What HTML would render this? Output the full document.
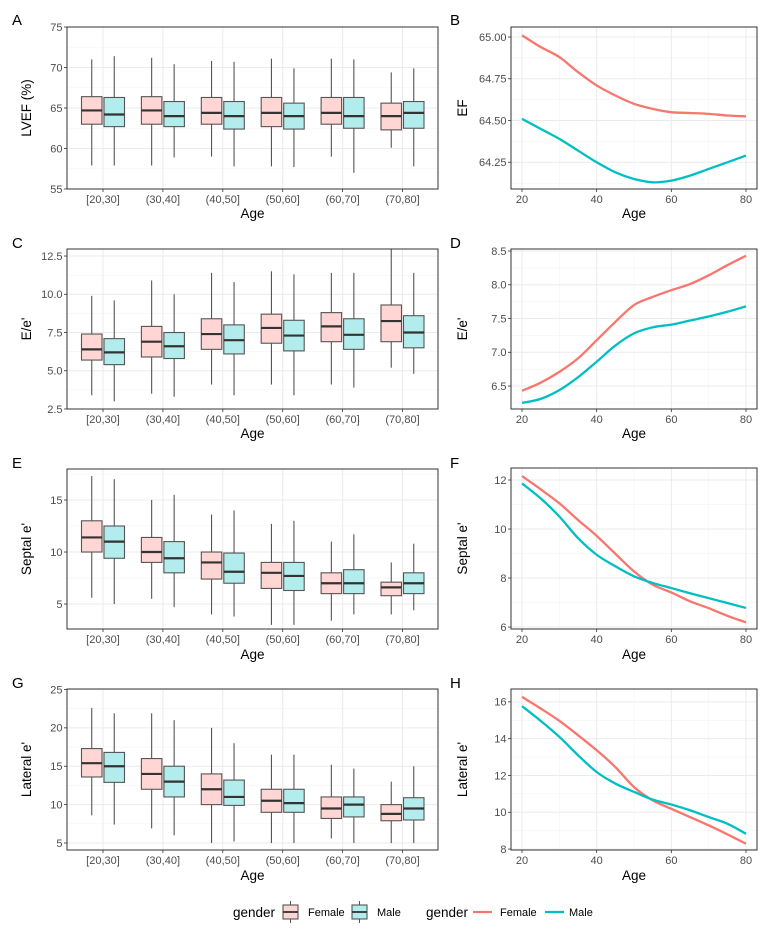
<!DOCTYPE html>
<html><head><meta charset="utf-8">
<style>
html,body{margin:0;padding:0;background:#fff;}
svg{display:block;font-family:"Liberation Sans",Arial,sans-serif;}
</style></head>
<body>
<svg id="chart" width="771" height="942" viewBox="0 0 771 942" xmlns="http://www.w3.org/2000/svg"></svg>
<script>
// ---------- data ----------
const ageGroups = ["[20,30]","(30,40]","(40,50]","(50,60]","(60,70]","(70,80]"];
// box stats: [lowWhisker, q1, median, q3, highWhisker]
const lvefFemale = [[57.9,63.0,64.7,66.4,71.0],[57.9,63.0,64.7,66.4,71.2],[59.0,63.0,64.4,66.3,70.8],[57.8,62.7,64.4,66.3,71.1],[59.0,63.0,64.4,66.3,71.1],[60.1,62.3,64.0,65.6,69.4]];
const lvefMale   = [[57.9,62.7,64.2,66.3,71.4],[58.9,62.7,64.0,65.8,70.4],[57.8,62.4,64.0,65.8,70.7],[57.7,62.4,64.0,65.6,69.9],[57.0,62.5,64.0,66.3,71.0],[57.8,62.5,64.4,65.8,69.9]];
const eeFemale = [[3.4,5.7,6.4,7.4,9.9],[3.5,5.9,6.9,7.9,10.9],[4.1,6.4,7.4,8.4,11.4],[4.1,6.8,7.8,8.7,11.5],[4.1,6.9,7.9,8.8,11.4],[5.2,6.9,8.25,9.3,13.0]];
const eeMale   = [[3.0,5.4,6.2,7.1,9.6],[3.3,5.8,6.6,7.5,10.0],[3.4,6.1,7.0,8.0,10.8],[3.4,6.3,7.3,8.3,11.3],[3.9,6.4,7.35,8.4,11.4],[4.8,6.5,7.5,8.6,11.4]];
const septFemale = [[5.6,10.0,11.4,13.0,17.3],[5.5,9.0,10.0,11.4,15.0],[4.0,7.4,9.0,10.0,13.6],[3.0,6.5,8.0,9.0,12.7],[3.4,6.0,7.0,8.0,11.0],[4.0,5.8,6.6,7.1,9.0]];
const septMale   = [[5.0,9.4,11.0,12.5,17.0],[4.7,8.0,9.4,11.0,15.5],[3.8,7.0,8.1,9.9,14.0],[3.0,6.3,7.7,9.0,13.0],[4.0,6.0,7.0,8.3,11.7],[4.4,6.0,7.0,8.0,10.8]];
const latFemale = [[8.6,13.6,15.4,17.3,22.6],[6.9,12.0,14.0,16.0,21.9],[5.0,10.0,12.0,14.0,20.0],[5.0,9.0,10.5,12.0,16.5],[5.6,8.2,9.5,11.0,15.2],[5.0,7.9,8.8,10.0,13.0]];
const latMale   = [[7.4,12.9,15.0,16.8,21.9],[6.0,11.0,13.0,15.0,21.0],[5.2,9.9,11.0,13.2,18.0],[5.0,9.0,10.2,12.0,16.5],[5.0,8.4,10.0,11.0,14.7],[5.0,8.0,9.5,10.9,15.0]];

const ages = [20,25,30,35,40,45,50,55,60,65,70,75,80];
const efFemale = [65.01,64.94,64.88,64.79,64.71,64.65,64.60,64.57,64.55,64.545,64.54,64.53,64.525];
const efMale   = [64.51,64.45,64.39,64.32,64.25,64.19,64.15,64.13,64.14,64.17,64.21,64.25,64.29];
const eeLineFemale = [6.43,6.55,6.71,6.91,7.18,7.45,7.70,7.82,7.92,8.01,8.14,8.29,8.43];
const eeLineMale   = [6.25,6.31,6.44,6.63,6.86,7.10,7.28,7.37,7.41,7.47,7.53,7.60,7.68];
const septLineFemale = [12.16,11.62,11.05,10.37,9.72,8.99,8.27,7.73,7.41,7.05,6.77,6.46,6.19];
const septLineMale   = [11.86,11.25,10.51,9.63,8.95,8.48,8.07,7.80,7.59,7.38,7.18,6.98,6.78];
const latLineFemale = [16.27,15.64,14.97,14.19,13.37,12.46,11.37,10.65,10.19,9.74,9.29,8.80,8.29];
const latLineMale   = [15.77,14.97,14.10,13.10,12.19,11.56,11.11,10.69,10.42,10.11,9.74,9.38,8.83];

const lvefTicks = [55,60,65,70,75];
const efTicks = [64.25,64.50,64.75,65.00];
const eeTicks = [2.5,5.0,7.5,10.0,12.5];
const eeLineTicks = [6.5,7.0,7.5,8.0,8.5];
const septTicks = [5,10,15];
const septLineTicks = [6,8,10,12];
const latTicks = [5,10,15,20,25];
const latLineTicks = [8,10,12,14,16];
const ageTicks = [20,40,60,80];

// ---------- helpers ----------
const svg = document.getElementById('chart');
const NS = 'http://www.w3.org/2000/svg';
function mk(tag, attrs, parent){
  const e = document.createElementNS(NS, tag);
  for (const k in attrs) e.setAttribute(k, attrs[k]);
  (parent||svg).appendChild(e);
  return e;
}
function txt(s, x, y, opts, parent){
  const t = mk('text', Object.assign({x:x, y:y}, opts||{}), parent);
  t.textContent = s;
  return t;
}
function fmt(v, dec){ return v.toFixed(dec); }

function frame(g, L, R, T, B, name){
  const bg = mk('rect',{x:L,y:T,width:R-L,height:B-T,fill:'#fff'},g);
  
  
}
function yGrid(g, L, R, ys, ticks, dec, lo, hi, name){
  // minor
  for (let i=-1;i<ticks.length;i++){
    const step = ticks[1]-ticks[0];
    const m = (i<0? ticks[0]-step/2 : ticks[i]+step/2);
    if (m<lo||m>hi) continue;
    const ln = mk('line',{x1:L,x2:R,y1:ys(m),y2:ys(m),stroke:'#f3f3f3','stroke-width':0.6},g);
    
    
  }
  ticks.forEach(v=>{
    const y = ys(v);
    const ln = mk('line',{x1:L,x2:R,y1:y,y2:y,stroke:'#ebebeb','stroke-width':1},g);
    
    
    mk('line',{x1:L-3,x2:L,y1:y,y2:y,stroke:'#333','stroke-width':0.8},g);
    const t = txt(fmt(v,dec), L-4.5, y+3.8, {'font-size':11,fill:'#4d4d4d','text-anchor':'end'}, g);
    
    
  });
}
function border(g,L,R,T,B,name){
  const b = mk('rect',{x:L,y:T,width:R-L,height:B-T,fill:'none',stroke:'#333','stroke-width':1},g);
  
  
}
function labels(g, letter, lx, ly, ytitle, yx, cy, xtitleY, cx, name){
  const p = txt(letter, lx, ly, {'font-size':15,fill:'#000'}, g);
  
  
  const yt = txt(ytitle, 0, 0, {'font-size':13.5,fill:'#000','text-anchor':'middle',transform:`translate(${yx},${cy}) rotate(-90)`}, g);
  
  
  const xt = txt('Age', cx, xtitleY, {'font-size':13.5,fill:'#000','text-anchor':'middle'}, g);
  
  
}

const FEM_FILL = '#ffd6d3', MAL_FILL = '#b3ecec';
const FEM_LINE = '#f8766d', MAL_LINE = '#00bfc4';

function boxPanel(cfg){
  const {name, letter, T, B, lo, hi, ticks, dec, fem, mal, ytitle, letterY, xtitleY} = cfg;
  const L = 67, R = 438;
  const g = mk('g',{});
  
  
  const ys = v => B - (v-lo)/(hi-lo)*(B-T);
  const xc = i => 103 + i*59.9;
  frame(g,L,R,T,B,name);
  yGrid(g,L,R,ys,ticks,dec,lo,hi,name);
  ageGroups.forEach((a,i)=>{
    const x = xc(i);
    const gl = mk('line',{x1:x,x2:x,y1:T,y2:B,stroke:'#ebebeb','stroke-width':1},g);
    
    
    mk('line',{x1:x,x2:x,y1:B,y2:B+3,stroke:'#333','stroke-width':0.8},g);
    const t = txt(a, x, B+14, {'font-size':11,fill:'#4d4d4d','text-anchor':'middle'}, g);
    
    
  });
  const clip = mk('clipPath',{id:'clip-'+name},g);
  mk('rect',{x:L,y:T,width:R-L,height:B-T},clip);
  const gb = mk('g',{'clip-path':`url(#clip-${name})`},g);
  function drawBox(s, x0, x1, fill, who, i){
    const bg = mk('g',{},gb);
    
    
    const xm = (x0+x1)/2;
    mk('line',{x1:xm,x2:xm,y1:ys(s[4]),y2:ys(s[3]),stroke:'#555','stroke-width':1.1},bg);
    mk('line',{x1:xm,x2:xm,y1:ys(s[1]),y2:ys(s[0]),stroke:'#555','stroke-width':1.1},bg);
    mk('rect',{x:x0,y:ys(s[3]),width:x1-x0,height:ys(s[1])-ys(s[3]),fill:fill,stroke:'#555','stroke-width':1.1},bg);
    mk('line',{x1:x0,x2:x1,y1:ys(s[2]),y2:ys(s[2]),stroke:'#333','stroke-width':2.2},bg);
  }
  fem.forEach((s,i)=>drawBox(s, xc(i)-21.5, xc(i)-1, FEM_FILL, 'female', i));
  mal.forEach((s,i)=>drawBox(s, xc(i)+1, xc(i)+21.5, MAL_FILL, 'male', i));
  border(g,L,R,T,B,name);
  labels(g, letter, 12, letterY, ytitle, 31, (T+B)/2, xtitleY, (L+R)/2, name);
}

function smoothPath(pts){
  let d = `M${pts[0][0]},${pts[0][1]}`;
  for (let i=0;i<pts.length-1;i++){
    const p0 = pts[Math.max(0,i-1)], p1 = pts[i], p2 = pts[i+1], p3 = pts[Math.min(pts.length-1,i+2)];
    const c1x = p1[0]+(p2[0]-p0[0])/6, c1y = p1[1]+(p2[1]-p0[1])/6;
    const c2x = p2[0]-(p3[0]-p1[0])/6, c2y = p2[1]-(p3[1]-p1[1])/6;
    d += ` C${c1x},${c1y} ${c2x},${c2y} ${p2[0]},${p2[1]}`;
  }
  return d;
}

function linePanel(cfg){
  const {name, letter, T, B, lo, hi, ticks, dec, fem, mal, ytitle, letterY, xtitleY} = cfg;
  const L = 511, R = 757;
  const g = mk('g',{});
  
  
  const ys = v => B - (v-lo)/(hi-lo)*(B-T);
  const xs = a => 522 + (a-20)/60*224;
  frame(g,L,R,T,B,name);
  yGrid(g,L,R,ys,ticks,dec,lo,hi,name);
  [30,50,70].forEach(a=>{
    const ln = mk('line',{x1:xs(a),x2:xs(a),y1:T,y2:B,stroke:'#f3f3f3','stroke-width':0.6},g);
    
    
  });
  ageTicks.forEach(a=>{
    const x = xs(a);
    const gl = mk('line',{x1:x,x2:x,y1:T,y2:B,stroke:'#ebebeb','stroke-width':1},g);
    
    
    mk('line',{x1:x,x2:x,y1:B,y2:B+3,stroke:'#333','stroke-width':0.8},g);
    const t = txt(String(a), x, B+14, {'font-size':11,fill:'#4d4d4d','text-anchor':'middle'}, g);
    
    
  });
  const pf = mk('path',{d:smoothPath(ages.map((a,i)=>[xs(a),ys(fem[i])])),fill:'none',stroke:FEM_LINE,'stroke-width':2.3},g);
  
  
  const pm = mk('path',{d:smoothPath(ages.map((a,i)=>[xs(a),ys(mal[i])])),fill:'none',stroke:MAL_LINE,'stroke-width':2.3},g);
  
  
  border(g,L,R,T,B,name);
  labels(g, letter, 450, letterY, ytitle, 467, (T+B)/2, xtitleY, (L+R)/2, name);
}

boxPanel({name:'lvef', letter:'A', T:27, B:189, lo:55, hi:75, ticks:lvefTicks, dec:0, fem:lvefFemale, mal:lvefMale, ytitle:'LVEF (%)', letterY:25, xtitleY:218});
linePanel({name:'ef', letter:'B', T:27, B:189, lo:64.09, hi:65.06, ticks:efTicks, dec:2, fem:efFemale, mal:efMale, ytitle:'EF', letterY:25, xtitleY:218});
boxPanel({name:'e-over-e', letter:'C', T:249, B:409, lo:2.5, hi:12.96, ticks:eeTicks, dec:1, fem:eeFemale, mal:eeMale, ytitle:"E/e'", letterY:248, xtitleY:438});
linePanel({name:'e-over-e-smooth', letter:'D', T:249, B:409, lo:6.16, hi:8.53, ticks:eeLineTicks, dec:1, fem:eeLineFemale, mal:eeLineMale, ytitle:"E/e'", letterY:248, xtitleY:438});
boxPanel({name:'septal', letter:'E', T:469, B:629, lo:2.6, hi:17.98, ticks:septTicks, dec:0, fem:septFemale, mal:septMale, ytitle:"Septal e'", letterY:468, xtitleY:659});
linePanel({name:'septal-smooth', letter:'F', T:468, B:629, lo:5.92, hi:12.49, ticks:septLineTicks, dec:0, fem:septLineFemale, mal:septLineMale, ytitle:"Septal e'", letterY:468, xtitleY:659});
boxPanel({name:'lateral', letter:'G', T:689, B:850, lo:4.09, hi:25.06, ticks:latTicks, dec:0, fem:latFemale, mal:latMale, ytitle:"Lateral e'", letterY:688, xtitleY:880});
linePanel({name:'lateral-smooth', letter:'H', T:689, B:850, lo:7.95, hi:16.7, ticks:latLineTicks, dec:0, fem:latLineFemale, mal:latLineMale, ytitle:"Lateral e'", letterY:688, xtitleY:880});

// ---------- legends ----------
const LY = 912;
const lg1 = mk('g',{});


const lt1 = txt('gender', 233, LY+5, {'font-size':13.5,fill:'#000'}, lg1);


[[283,FEM_FILL,'Female',308,'female'],[352,MAL_FILL,'Male',377,'male']].forEach(k=>{
  const e = mk('g',{},lg1);
  
  
  mk('line',{x1:k[0]+7.5,x2:k[0]+7.5,y1:LY-11,y2:LY+11,stroke:'#555','stroke-width':1},e);
  mk('rect',{x:k[0],y:LY-7,width:15,height:14,fill:k[1],stroke:'#555','stroke-width':1.1},e);
  mk('line',{x1:k[0],x2:k[0]+15,y1:LY,y2:LY,stroke:'#333','stroke-width':1.8},e);
  txt(k[2], k[3], LY+4, {'font-size':11,fill:'#000'}, e);
});
const lg2 = mk('g',{});


const lt2 = txt('gender', 426, LY+5, {'font-size':13.5,fill:'#000'}, lg2);


[[473,FEM_LINE,'Female',500,'female'],[545,MAL_LINE,'Male',569,'male']].forEach(k=>{
  const e = mk('g',{},lg2);
  
  
  mk('line',{x1:k[0],x2:k[0]+19,y1:LY,y2:LY,stroke:k[1],'stroke-width':2.3},e);
  txt(k[2], k[3], LY+4, {'font-size':11,fill:'#000'}, e);
});
</script>
</body></html>
